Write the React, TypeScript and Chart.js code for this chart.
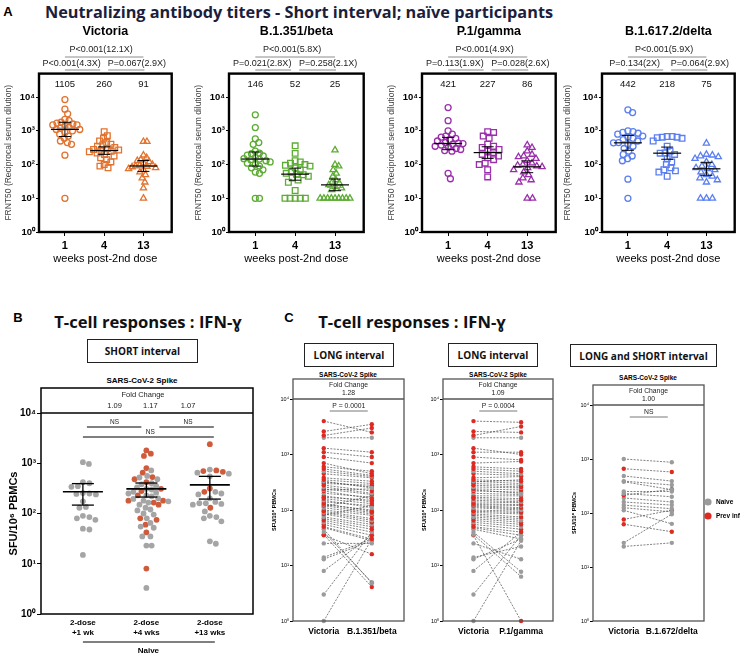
import React, { useEffect, useRef } from 'react';
import { Chart, registerables } from 'chart.js';

Chart.register(...registerables);

const AR = '"Liberation Sans", Arial, Helvetica, sans-serif';
const OS = '"Open Sans", "Noto Sans", sans-serif';

// ---------------- Panel A : neutralizing antibody titres ----------------
const weekTicks = ['1', '4', '13'];
const variantTitles = ['Victoria', 'B.1.351/beta', 'P.1/gamma', 'B.1.617.2/delta'];
const variantColors = ['#e2722d', '#5cac33', '#9a2fab', '#5b7ff0'];
const yTickValues = [1, 10, 100, 1000, 10000];

const victoriaWk1 = [8500, 4400, 3200, 2200, 2000, 1800, 1700, 1600, 1500, 1500, 1400, 1300, 1200, 1100, 1100, 1000, 900, 800, 700, 600, 500, 450, 400, 190, 10];
const victoriaWk4 = [950, 720, 600, 500, 450, 400, 380, 350, 320, 300, 280, 270, 260, 250, 240, 220, 200, 180, 160, 140, 120, 100, 90, 80];
const victoriaWk13 = [480, 480, 190, 160, 140, 130, 120, 110, 100, 95, 90, 88, 85, 80, 75, 70, 60, 50, 40, 30, 20, 10];
const betaWk1 = [3000, 1250, 580, 450, 400, 250, 220, 210, 190, 180, 160, 150, 146, 140, 130, 120, 110, 100, 90, 80, 70, 60, 55, 10, 10];
const betaWk4 = [360, 215, 130, 120, 110, 100, 95, 90, 80, 70, 60, 55, 52, 50, 45, 40, 35, 30, 17, 10, 10, 10, 10, 10];
const betaWk13 = [270, 100, 90, 70, 55, 45, 35, 30, 28, 25, 22, 20, 18, 10, 10, 10, 10, 10, 10, 10, 10, 10];
const gammaWk1 = [4900, 2000, 1000, 800, 700, 650, 600, 550, 500, 450, 430, 421, 400, 380, 350, 330, 300, 280, 260, 250, 55, 38];
const gammaWk4 = [950, 900, 700, 600, 400, 350, 320, 280, 250, 227, 200, 180, 160, 140, 110, 100, 70, 43];
const gammaWk13 = [380, 320, 250, 200, 180, 170, 150, 130, 110, 100, 95, 90, 86, 80, 70, 60, 50, 40, 35, 30, 10, 10];
const deltaWk1 = [4200, 3500, 1000, 950, 900, 850, 800, 700, 650, 600, 550, 500, 450, 442, 400, 350, 300, 250, 200, 180, 150, 130, 37, 10];
const deltaWk4 = [680, 680, 650, 650, 630, 600, 500, 350, 250, 220, 218, 200, 150, 120, 100, 80, 70, 65, 60, 45];
const deltaWk13 = [430, 200, 190, 180, 170, 150, 120, 100, 90, 80, 75, 70, 60, 50, 45, 40, 35, 30, 10, 10, 10];

const victoriaGMT = [1105, 260, 91];
const betaGMT = [146, 52, 25];
const gammaGMT = [421, 227, 86];
const deltaGMT = [442, 218, 75];

const victoriaP = ['P<0.001(12.1X)', 'P<0.001(4.3X)', 'P=0.067(2.9X)'];
const betaP = ['P<0.001(5.8X)', 'P=0.021(2.8X)', 'P=0.258(2.1X)'];
const gammaP = ['P<0.001(4.9X)', 'P=0.113(1.9X)', 'P=0.028(2.6X)'];
const deltaP = ['P<0.001(5.9X)', 'P=0.134(2X)', 'P=0.064(2.9X)'];

// ---------------- Panel B : IFN-γ, short interval ----------------
const bGroupLabels = [['2-dose', '+1 wk'], ['2-dose', '+4 wks'], ['2-dose', '+13 wks']];
const bFoldChange = ['1.09', '1.17', '1.07'];
const bWk1Naive = [1050, 970, 420, 400, 350, 340, 255, 250, 245, 240, 175, 135, 130, 90, 85, 80, 75, 50, 48, 15];
const bWk1Prev: number[] = [];
const bWk4Naive = [720, 560, 520, 480, 400, 380, 350, 330, 310, 300, 270, 260, 250, 230, 220, 200, 195, 180, 175, 165, 150, 130, 120, 115, 100, 95, 80, 65, 55, 52, 35, 35, 23, 23, 3.3];
const bWk4Prev = [1800, 1550, 1400, 800, 650, 530, 480, 420, 310, 280, 230, 180, 180, 165, 150, 80, 75, 60, 42, 8];
const bWk13Naive = [750, 650, 620, 550, 270, 250, 240, 200, 170, 160, 160, 155, 150, 110, 90, 85, 80, 70, 28, 25];
const bWk13Prev = [2400, 720, 675, 700, 315, 270, 130];

// ---------------- Panel C : paired IFN-γ responses ----------------
const c1Labels = ['Victoria', 'B.1.351/beta'];
const c1Victoria = [4000, 2600, 2200, 2000, 1300, 1100, 900, 700, 600, 550, 500, 450, 380, 350, 330, 320, 300, 280, 260, 240, 230, 220, 200, 180, 170, 160, 150, 140, 130, 125, 120, 115, 110, 100, 95, 90, 85, 80, 75, 70, 65, 60, 55, 50, 48, 45, 40, 36, 35, 25, 14, 13, 8, 3, 1];
const c1Beta = [2500, 3500, 3000, 2000, 1100, 900, 700, 450, 500, 420, 400, 380, 330, 300, 250, 260, 280, 220, 200, 190, 240, 160, 170, 140, 150, 130, 110, 120, 95, 100, 90, 180, 85, 80, 70, 65, 60, 120, 55, 50, 45, 40, 35, 30, 28, 4.8, 5, 4.1, 16, 25, 30, 28, 35, 40, 30];
const c1Prev = [1, 1, 1, 0, 1, 1, 1, 1, 1, 1, 0, 1, 1, 1, 0, 1, 1, 1, 0, 1, 0, 1, 0, 1, 1, 1, 0, 1, 1, 0, 1, 0, 0, 1, 1, 0, 1, 0, 0, 1, 1, 0, 1, 1, 0, 0, 0, 1, 1, 0, 0, 0, 0, 0, 0];
const c1Fold = '1.28';
const c1P = 'P = 0.0001';

const c2Labels = ['Victoria', 'P.1/gamma'];
const c2Victoria = [4000, 2600, 2200, 2000, 1300, 1100, 900, 700, 600, 550, 500, 450, 380, 350, 330, 320, 300, 280, 260, 240, 230, 220, 200, 180, 170, 160, 150, 140, 130, 125, 120, 115, 110, 100, 95, 90, 85, 80, 75, 70, 65, 60, 55, 50, 48, 45, 40, 36, 35, 25, 14, 13, 8, 3, 1];
const c2Gamma = [3800, 2500, 3200, 2000, 1000, 1100, 800, 750, 550, 500, 450, 420, 400, 330, 300, 350, 280, 260, 250, 230, 200, 210, 190, 180, 160, 150, 140, 135, 125, 120, 110, 105, 100, 95, 90, 85, 75, 70, 65, 60, 55, 50, 45, 40, 35, 30, 7.7, 6.3, 1, 13, 22, 30, 40, 35, 28];
const c2Prev = [1, 1, 1, 0, 1, 1, 1, 1, 1, 1, 0, 1, 1, 1, 0, 1, 1, 1, 0, 1, 0, 1, 0, 1, 1, 1, 0, 1, 1, 0, 1, 0, 0, 1, 1, 0, 1, 0, 0, 1, 1, 0, 1, 1, 0, 0, 0, 0, 1, 0, 0, 0, 0, 0, 0];
const c2Fold = '1.09';
const c2P = 'P = 0.0004';

const c3Labels = ['Victoria', 'B.1.672/delta'];
const c3Victoria = [1000, 660, 485, 390, 380, 250, 230, 213, 190, 160, 140, 125, 112, 76, 62, 28, 24];
const c3Delta = [870, 575, 390, 330, 270, 250, 200, 275, 160, 140, 120, 105, 63, 113, 45, 95, 28];
const c3Prev = [0, 1, 0, 0, 0, 0, 0, 1, 0, 0, 0, 0, 0, 1, 1, 0, 0];
const c3Fold = '1.00';
const c3P = 'NS';

const legendLabels = ['Naive', 'Prev inf'];

const GREY_B = '#a5a5a5';
const RED_B = '#cf5b3b';
const GREY_C = '#9b9b9b';
const RED_C = '#dd2a22';

// ---------------- helpers ----------------
const SUP: Record<number, string> = { 0: '\u2070', 1: '\u00b9', 2: '\u00b2', 3: '\u00b3', 4: '\u2074' };
const powLabel = (v: number) => '10' + SUP[Math.round(Math.log10(v))];

type Pt = { x: number; y: number };

function swarm(values: number[], center: number, pxX: number, pxDec: number, diam: number, maxHalf: number): Pt[] {
  const order = values.map((_, i) => i).sort((a, b) => values[b] - values[a]);
  const placed: { dx: number; py: number }[] = [];
  const off: number[] = values.map(() => 0);
  for (const i of order) {
    const py = Math.log10(values[i]) * pxDec;
    let best = 0;
    for (let k = 0; k < 600; k++) {
      const cand = k === 0 ? 0 : (k % 2 ? 1 : -1) * Math.ceil(k / 2) * 0.5;
      let ok = true;
      for (const p of placed) {
        const ddx = p.dx - cand;
        const ddy = p.py - py;
        if (ddx * ddx + ddy * ddy < diam * diam) { ok = false; break; }
      }
      if (ok) { best = cand; break; }
    }
    placed.push({ dx: best, py });
    off[i] = best;
  }
  const m = Math.max(0.0001, ...off.map((o) => Math.abs(o)));
  const s = m > maxHalf ? maxHalf / m : 1;
  return values.map((v, i) => ({ x: center + (off[i] * s) / pxX, y: v }));
}

function quant(vals: number[], p: number) {
  const s = [...vals].sort((a, b) => a - b);
  const pos = (s.length - 1) * p;
  const lo = Math.floor(pos);
  const hi = Math.ceil(pos);
  return s[lo] + (s[hi] - s[lo]) * (pos - lo);
}

function logCI(vals: number[]) {
  const l = vals.map((v) => Math.log10(v));
  const m = l.reduce((a, b) => a + b, 0) / l.length;
  const sd = Math.sqrt(l.reduce((a, b) => a + (b - m) * (b - m), 0) / (l.length - 1));
  return (1.96 * sd) / Math.sqrt(l.length);
}

function meanCI(vals: number[]) {
  const m = vals.reduce((a, b) => a + b, 0) / vals.length;
  const sd = Math.sqrt(vals.reduce((a, b) => a + (b - m) * (b - m), 0) / (vals.length - 1));
  const h = (1.96 * sd) / Math.sqrt(vals.length);
  return { m, lo: Math.max(1, m - h), hi: m + h };
}

function T(ctx: any, s: string, x: number, y: number, font: string, color = '#000', align: CanvasTextAlign = 'center') {
  ctx.font = font;
  ctx.fillStyle = color;
  ctx.textAlign = align;
  ctx.textBaseline = 'middle';
  ctx.fillText(s, x, y);
}

function L(ctx: any, x1: number, y1: number, x2: number, y2: number, color = '#000', w = 1) {
  ctx.beginPath();
  ctx.strokeStyle = color;
  ctx.lineWidth = w;
  ctx.setLineDash([]);
  ctx.moveTo(x1, y1);
  ctx.lineTo(x2, y2);
  ctx.stroke();
}

function baseOptions(pad: any, scales: any) {
  return {
    animation: false,
    responsive: false,
    maintainAspectRatio: false,
    events: [],
    layout: { padding: pad },
    plugins: { legend: { display: false }, tooltip: { enabled: false }, title: { display: false } },
    scales,
  };
}

function logAxis(o: any) {
  return {
    type: 'logarithmic',
    min: 1,
    max: o.max,
    bounds: 'data',
    afterBuildTicks: (s: any) => { s.ticks = yTickValues.map((v) => ({ value: v })); },
    afterFit: (s: any) => { s.width = o.width; },
    ticks: { callback: (v: any) => powLabel(Number(v)), font: o.font, color: '#000', padding: o.pad, autoSkip: false, maxRotation: 0 },
    grid: { drawOnChartArea: false, drawTicks: true, tickLength: o.tl, color: '#000', tickColor: '#000', lineWidth: 1 },
    border: { display: false },
    title: { display: true, text: o.title, font: o.titleFont, color: o.titleColor, padding: { top: o.titlePad, bottom: 0 } },
  };
}

function catAxis(o: any) {
  return {
    type: 'linear',
    min: o.min,
    max: o.max,
    bounds: 'data',
    afterBuildTicks: (s: any) => { s.ticks = o.labels.map((_: any, i: number) => ({ value: i })); },
    afterFit: (s: any) => { s.height = o.height; },
    ticks: { callback: (v: any) => o.labels[Math.round(Number(v))], font: o.font, color: '#000', padding: o.pad, autoSkip: false, maxRotation: 0 },
    grid: { drawOnChartArea: false, drawTicks: o.tl > 0, tickLength: o.tl, color: '#000', tickColor: '#000', lineWidth: 1 },
    border: { display: false },
    title: o.title
      ? { display: true, text: o.title, font: o.titleFont, color: '#000', padding: { top: 0, bottom: 4 } }
      : { display: false },
  };
}

// ---------------- Panel A builder ----------------
const A_TOP = 73.6;
const A_BOTTOM = 232;
const A_H = 270;
const A_MAX = 50000;

type ASpec = { title: string; left: number; aL: number; aR: number; color: string; groups: number[][]; gmt: number[]; pv: string[] };

function buildA(spec: ASpec) {
  const xMin = -0.66;
  const xMax = 2.72;
  const pxX = (spec.aR - spec.aL) / (xMax - xMin);
  const pxDec = (A_BOTTOM - A_TOP) / Math.log10(A_MAX);
  const styles = ['circle', 'rect', 'triangle'];
  const radii = [3, 4, 3.6];
  const datasets = spec.groups.map((g, i) => ({
    data: swarm(g, i, pxX, pxDec, 6, 15),
    pointStyle: styles[i],
    pointRadius: radii[i],
    pointBorderColor: spec.color,
    pointBackgroundColor: 'rgba(255,255,255,0)',
    pointBorderWidth: 1.3,
    showLine: false,
    clip: false,
  }));
  const plugin = {
    id: 'panelA',
    afterDraw(chart: any) {
      const { ctx, chartArea: a, scales } = chart;
      const px = (i: number) => scales.x.getPixelForValue(i);
      const py = (v: number) => scales.y.getPixelForValue(v);
      ctx.save();
      spec.groups.forEach((g, i) => {
        const cx = px(i);
        const c = spec.gmt[i];
        const ci = logCI(g);
        const lo = c / Math.pow(10, ci);
        const hi = c * Math.pow(10, ci);
        const med = quant(g, 0.5);
        L(ctx, cx - 8, py(med), cx + 8, py(med), '#9a9a9a', 1.3);
        L(ctx, cx - 14, py(c), cx + 14, py(c), '#000', 1.2);
        L(ctx, cx, py(lo), cx, py(hi), '#000', 1);
        L(ctx, cx - 6, py(lo), cx + 6, py(lo), '#000', 1);
        L(ctx, cx - 6, py(hi), cx + 6, py(hi), '#000', 1);
      });
      ctx.lineWidth = 2.4;
      ctx.strokeStyle = '#000';
      ctx.strokeRect(a.left, a.top, a.right - a.left, a.bottom - a.top);
      const mid = (a.left + a.right) / 2;
      T(ctx, spec.title, mid, 32, `bold 12.5px ${AR}`);
      spec.gmt.forEach((g, i) => T(ctx, String(g), px(i), a.top + 10.5, `9.5px ${AR}`, '#111'));
      const x0 = px(0), x1 = px(1), x2 = px(2);
      const pf = `9px ${AR}`;
      T(ctx, spec.pv[0], (x0 + x2) / 2 - 3, 50, pf, '#222');
      L(ctx, x0, 57, x2, 57, '#8c8c8c', 1);
      T(ctx, spec.pv[1], (x0 + x1) / 2 - 13, 63.5, pf, '#222');
      T(ctx, spec.pv[2], (x1 + x2) / 2 + 13, 63.5, pf, '#222');
      L(ctx, x0, 70, x1 - 4, 70, '#8c8c8c', 1);
      L(ctx, x1 + 4, 70, x2 + 1, 70, '#8c8c8c', 1);
      ctx.restore();
    },
  };
  return {
    type: 'scatter',
    data: { datasets },
    options: baseOptions({ top: A_TOP, right: 4, bottom: 0, left: 0 }, {
      x: catAxis({ min: xMin, max: xMax, labels: weekTicks, height: A_H - A_BOTTOM, font: { size: 11, weight: 'bold', family: AR }, pad: 3, tl: 4, title: 'weeks post-2nd dose', titleFont: { size: 11, family: AR } }),
      y: logAxis({ max: A_MAX, width: spec.aL - spec.left, font: { size: 9.5, weight: 'bold', family: AR }, pad: 1, tl: 3, title: 'FRNT50 (Reciprocal serum dilution)', titleFont: { size: 8.5, family: AR }, titleColor: '#444', titlePad: 4 }),
    }),
    plugins: [plugin],
  };
}

// ---------------- Panel B builder ----------------
const B_LEFT = 0, B_TOP = 380, B_W = 262, B_H = 276;
const B_AL = 41, B_AR = 253, B_AT = 413, B_AB = 614;

function buildB() {
  const xMin = -0.66, xMax = 2.68;
  const pxX = (B_AR - B_AL) / (xMax - xMin);
  const pxDec = (B_AB - B_AT) / 4;
  const groups = [[bWk1Naive, bWk1Prev], [bWk4Naive, bWk4Prev], [bWk13Naive, bWk13Prev]];
  const datasets: any[] = [];
  const all: number[][] = [];
  groups.forEach(([n, p], i) => {
    const vals = n.concat(p);
    all.push(vals);
    const pts = swarm(vals, i, pxX, pxDec, 6.2, 22);
    datasets.push({ data: pts.slice(0, n.length), pointRadius: 2.9, pointBackgroundColor: GREY_B, pointBorderColor: GREY_B, pointBorderWidth: 0, showLine: false, clip: false });
    datasets.push({ data: pts.slice(n.length), pointRadius: 2.9, pointBackgroundColor: RED_B, pointBorderColor: RED_B, pointBorderWidth: 0, showLine: false, clip: false });
  });
  const plugin = {
    id: 'panelB',
    afterDraw(chart: any) {
      const { ctx, chartArea: a, scales } = chart;
      const px = (i: number) => scales.x.getPixelForValue(i);
      const py = (v: number) => scales.y.getPixelForValue(v);
      ctx.save();
      all.forEach((g, i) => {
        const cx = px(i);
        const s = meanCI(g);
        L(ctx, cx - 20, py(s.m), cx + 20, py(s.m), '#000', 1.6);
        L(ctx, cx, py(s.lo), cx, py(s.hi), '#000', 1.3);
        L(ctx, cx - 11, py(s.lo), cx + 11, py(s.lo), '#000', 1.3);
        L(ctx, cx - 11, py(s.hi), cx + 11, py(s.hi), '#000', 1.3);
      });
      ctx.lineWidth = 1.5;
      ctx.strokeStyle = '#000';
      ctx.strokeRect(a.left, a.top - 25, a.right - a.left, a.bottom - a.top + 25);
      L(ctx, a.left, a.top, a.right, a.top, '#000', 1.5);
      const x0 = px(0), x1 = px(1), x2 = px(2);
      const mid = (a.left + a.right) / 2;
      T(ctx, 'Fold Change', mid - 4, a.top - 18.5, `7.5px ${AR}`, '#222');
      T(ctx, bFoldChange[0], (x0 + x1) / 2, a.top - 7, `7.5px ${AR}`, '#222');
      T(ctx, bFoldChange[1], x1 + 4, a.top - 7, `7.5px ${AR}`, '#222');
      T(ctx, bFoldChange[2], (x1 + x2) / 2 + 10, a.top - 7, `7.5px ${AR}`, '#222');
      const nf = `6.5px ${AR}`;
      T(ctx, 'NS', (x0 + x1) / 2, a.top + 9, nf, '#222');
      L(ctx, x0 + 4, a.top + 14, x1 - 5, a.top + 14, '#000', 1);
      T(ctx, 'NS', (x1 + x2) / 2 + 10, a.top + 9, nf, '#222');
      L(ctx, x1 + 13, a.top + 14, x2 + 4, a.top + 14, '#000', 1);
      T(ctx, 'NS', x1 + 4, a.top + 19.5, nf, '#222');
      L(ctx, x0, a.top + 24, x2 + 4, a.top + 24, '#000', 1);
      L(ctx, x0, a.bottom + 28, x2 + 5, a.bottom + 28, '#000', 1);
      T(ctx, 'Naive', (x0 + x2) / 2 + 2, a.bottom + 37, `bold 8px ${AR}`);
      ctx.restore();
    },
  };
  return {
    type: 'scatter',
    data: { datasets },
    options: baseOptions({ top: B_AT - B_TOP, right: B_W - B_AR, bottom: 0, left: 0 }, {
      x: catAxis({ min: xMin, max: xMax, labels: bGroupLabels, height: B_H - (B_AB - B_TOP), font: { size: 8, weight: 'bold', family: AR, lineHeight: 1.25 }, pad: 4, tl: 0 }),
      y: logAxis({ max: 10000, width: B_AL - B_LEFT, font: { size: 10, weight: 'bold', family: AR }, pad: 1, tl: 4, title: 'SFU/10\u2076 PBMCs', titleFont: { size: 11, weight: 'bold', family: AR }, titleColor: '#000', titlePad: 7 }),
    }),
    plugins: [plugin],
  };
}

// ---------------- Panel C builder ----------------
const C_TOP = 360, C_H = 296, C_AB = 621;

type CSpec = { left: number; width: number; aL: number; aR: number; aT: number; labels: string[]; v1: number[]; v2: number[]; prev: number[]; fold: string; p: string; legend: boolean };

function buildC(spec: CSpec) {
  const datasets = spec.v1.map((v, i) => {
    const col = spec.prev[i] ? RED_C : GREY_C;
    return {
      data: [{ x: 0, y: v }, { x: 1, y: spec.v2[i] }],
      showLine: true,
      borderColor: '#4a4a4a',
      borderWidth: 0.7,
      borderDash: [2, 1.3],
      pointRadius: 2.2,
      pointBorderWidth: 0,
      pointBackgroundColor: col,
      pointBorderColor: col,
      clip: false,
    };
  });
  const plugin = {
    id: 'panelC',
    afterDraw(chart: any) {
      const { ctx, chartArea: a, scales } = chart;
      const px = (i: number) => scales.x.getPixelForValue(i);
      ctx.save();
      ctx.lineWidth = 1.3;
      ctx.strokeStyle = '#555';
      ctx.setLineDash([]);
      ctx.strokeRect(a.left, a.top - 20, a.right - a.left, a.bottom - a.top + 20);
      L(ctx, a.left, a.top, a.right, a.top, '#555', 1.3);
      const mid = (a.left + a.right) / 2;
      T(ctx, 'Fold Change', mid, a.top - 14, `6.8px ${AR}`, '#222');
      T(ctx, spec.fold, mid, a.top - 5.5, `6.8px ${AR}`, '#222');
      const cx = (px(0) + px(1)) / 2 + 1;
      T(ctx, spec.p, cx, a.top + 7.5, `6.8px ${AR}`, '#222');
      L(ctx, cx - 19, a.top + 12, cx + 19, a.top + 12, '#555', 0.8);
      if (spec.legend) {
        const lx = 708 - spec.left;
        const ly = 502 - C_TOP;
        ctx.fillStyle = GREY_C;
        ctx.beginPath(); ctx.arc(lx, ly, 3.6, 0, Math.PI * 2); ctx.fill();
        ctx.fillStyle = RED_C;
        ctx.beginPath(); ctx.arc(lx, ly + 14, 3.6, 0, Math.PI * 2); ctx.fill();
        T(ctx, legendLabels[0], lx + 8, ly, `bold 6.5px ${AR}`, '#000', 'left');
        T(ctx, legendLabels[1], lx + 8, ly + 14, `bold 6.5px ${AR}`, '#000', 'left');
      }
      ctx.restore();
    },
  };
  return {
    type: 'scatter',
    data: { datasets },
    options: baseOptions({ top: spec.aT - C_TOP, right: spec.left + spec.width - spec.aR, bottom: 0, left: 0 }, {
      x: catAxis({ min: -0.64, max: 1.67, labels: spec.labels, height: C_H - (C_AB - C_TOP), font: { size: 8.5, weight: 'bold', family: AR }, pad: 6, tl: 0 }),
      y: logAxis({ max: 10000, width: spec.aL - spec.left, font: { size: 5.5, family: AR }, pad: 1, tl: 3, title: 'SFU/10\u2076 PBMCs', titleFont: { size: 5.5, weight: 'bold', family: AR }, titleColor: '#000', titlePad: 6 }),
    }),
    plugins: [plugin],
  };
}

// ---------------- React components ----------------
function ChartCanvas(props: { left: number; top: number; width: number; height: number; build: () => any }) {
  const ref = useRef<HTMLCanvasElement | null>(null);
  useEffect(() => {
    if (!ref.current) return;
    const chart = new Chart(ref.current, props.build());
    return () => chart.destroy();
  }, []);
  return (
    <div style={{ position: 'absolute', left: props.left, top: props.top, width: props.width, height: props.height }}>
      <canvas ref={ref} width={props.width} height={props.height} style={{ display: 'block', width: props.width, height: props.height }} />
    </div>
  );
}

function Lbl(p: { cx: number; cy: number; size: number; text: string; family?: string; weight?: number; color?: string; w?: number }) {
  const w = p.w ?? 600;
  return (
    <div style={{ position: 'absolute', left: p.cx - w / 2, top: p.cy - p.size, width: w, height: p.size * 2, lineHeight: `${p.size * 2}px`, textAlign: 'center', fontSize: p.size, fontWeight: p.weight ?? 700, fontFamily: p.family ?? AR, color: p.color ?? '#000', whiteSpace: 'nowrap' }}>
      {p.text}
    </div>
  );
}

function Box(p: { x: number; y: number; w: number; h: number; text: string }) {
  return (
    <div style={{ position: 'absolute', left: p.x, top: p.y, width: p.w, height: p.h, boxSizing: 'border-box', border: '1.5px solid #222', display: 'flex', alignItems: 'center', justifyContent: 'center', fontFamily: OS, fontWeight: 700, fontSize: 10, color: '#111', whiteSpace: 'nowrap' }}>
      {p.text}
    </div>
  );
}

const aSpecs: ASpec[] = [
  { title: variantTitles[0], left: 0, aL: 39, aR: 173, color: variantColors[0], groups: [victoriaWk1, victoriaWk4, victoriaWk13], gmt: victoriaGMT, pv: victoriaP },
  { title: variantTitles[1], left: 190, aL: 229, aR: 365, color: variantColors[1], groups: [betaWk1, betaWk4, betaWk13], gmt: betaGMT, pv: betaP },
  { title: variantTitles[2], left: 383, aL: 422, aR: 557, color: variantColors[2], groups: [gammaWk1, gammaWk4, gammaWk13], gmt: gammaGMT, pv: gammaP },
  { title: variantTitles[3], left: 559, aL: 602, aR: 736, color: variantColors[3], groups: [deltaWk1, deltaWk4, deltaWk13], gmt: deltaGMT, pv: deltaP },
];

const cSpecs: CSpec[] = [
  { left: 265, width: 145, aL: 293, aR: 404, aT: 399, labels: c1Labels, v1: c1Victoria, v2: c1Beta, prev: c1Prev, fold: c1Fold, p: c1P, legend: false },
  { left: 415, width: 143, aL: 443, aR: 553, aT: 399, labels: c2Labels, v1: c2Victoria, v2: c2Gamma, prev: c2Prev, fold: c2Fold, p: c2P, legend: false },
  { left: 565, width: 175, aL: 593, aR: 704, aT: 405, labels: c3Labels, v1: c3Victoria, v2: c3Delta, prev: c3Prev, fold: c3Fold, p: c3P, legend: true },
];

export default function App() {
  return (
    <div style={{ position: 'absolute', left: 0, top: 0, width: 740, height: 656, overflow: 'hidden', background: '#fff' }}>
      <Lbl cx={8} cy={12} size={13} text="A" w={20} />
      <Lbl cx={299} cy={12} size={16.3} text="Neutralizing antibody titers - Short interval; naïve participants" family={OS} color="#1b1e3c" w={700} />
      {aSpecs.map((s, i) => (
        <ChartCanvas key={'a' + i} left={s.left} top={0} width={s.aR + 4 - s.left} height={A_H} build={() => buildA(s)} />
      ))}

      <Lbl cx={18} cy={318} size={13} text="B" w={20} />
      <Lbl cx={148} cy={322} size={16.6} text="T-cell responses : IFN-ɣ" family={OS} color="#111" w={260} />
      <Box x={87} y={339} w={111} h={24} text="SHORT interval" />
      <Lbl cx={142} cy={381} size={8} text="SARS-CoV-2 Spike" w={140} />
      <ChartCanvas left={B_LEFT} top={B_TOP} width={B_W} height={B_H} build={() => buildB()} />

      <Lbl cx={289} cy={318} size={13} text="C" w={20} />
      <Lbl cx={412} cy={322} size={16.6} text="T-cell responses : IFN-ɣ" family={OS} color="#111" w={260} />
      <Box x={304} y={343} w={90} h={24} text="LONG interval" />
      <Box x={448} y={343} w={90} h={24} text="LONG interval" />
      <Box x={570} y={344} w={147} h={23} text="LONG and SHORT interval" />
      <Lbl cx={348} cy={374} size={6.5} text="SARS-CoV-2 Spike" w={120} />
      <Lbl cx={498} cy={374} size={6.5} text="SARS-CoV-2 Spike" w={120} />
      <Lbl cx={648} cy={377} size={6.5} text="SARS-CoV-2 Spike" w={120} />
      {cSpecs.map((s, i) => (
        <ChartCanvas key={'c' + i} left={s.left} top={C_TOP} width={s.width} height={C_H} build={() => buildC(s)} />
      ))}
    </div>
  );
}
